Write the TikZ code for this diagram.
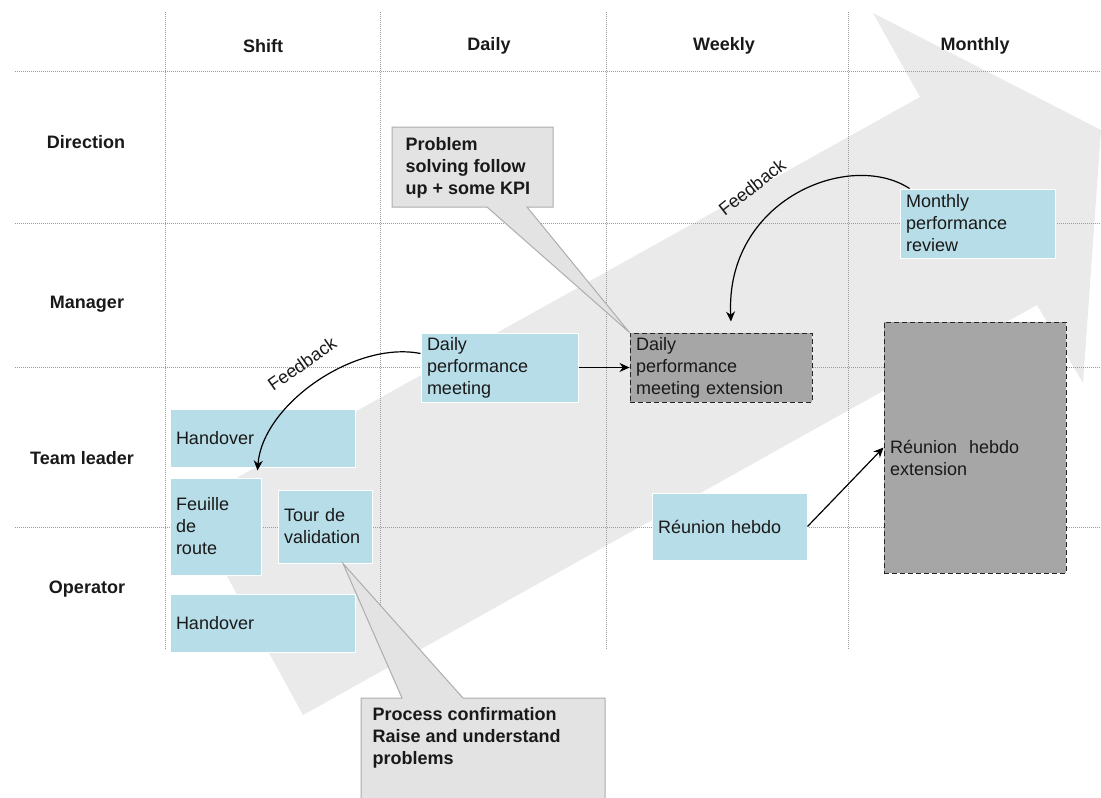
\documentclass[tikz,border=0pt]{standalone}
\usepackage{fontspec}
\setmainfont{Liberation Sans}
\usetikzlibrary{arrows.meta}

\definecolor{boxblue}{HTML}{B7DDE8}
\definecolor{extgray}{HTML}{A6A6A6}
\definecolor{flowgray}{HTML}{EAEAEA}
\definecolor{callfill}{HTML}{E3E3E3}
\definecolor{callline}{HTML}{ADADAD}
\definecolor{gridgray}{HTML}{9A9A9A}

\begin{document}
\begin{tikzpicture}[x=1pt,y=-1pt,>={Stealth[length=10pt,width=9pt]},
    every node/.style={font=\fontsize{18}{22}\selectfont,text=black!90},
    head/.style={font=\fontsize{18}{22}\selectfont\bfseries},
    gridline/.style={gridgray,line width=0.8pt,dash pattern=on 1pt off 1pt},
    act/.style={fill=boxblue,draw=white,line width=1pt,align=left,inner xsep=6pt,inner ysep=0pt},
    ext/.style={fill=extgray,draw=black!85,line width=1pt,dash pattern=on 5pt off 3pt,align=left,inner xsep=6pt,inner ysep=0pt},
    callout/.style={fill=callfill,draw=callline,line width=1pt},
    link/.style={->,line width=1.2pt}]
    \useasboundingbox (0,0) rectangle (1101,798);
    % big arrow in the background
    \fill[flowgray] (303,715) -- (1037,305) -- (1083,383) -- (1101,130) -- (873,13) -- (920,97) -- (188,505) -- cycle;
    \foreach \x in {165,380,606,848}{
        \draw[gridline] (\x,12) -- (\x,650);
    }
    \foreach \y in {71,223,367,527}{
        \draw[gridline] (15,\y) -- (1101,\y);
    }
    \foreach \x/\lab in {263/Shift,489/Daily,724/Weekly,975/Monthly}{
        \node[head] (col-\lab) at (\x,46) {\lab};
    }
    \foreach \x/\y/\nm/\lab in {86/142/dir/Direction,87/304/man/Manager,82/458/tl/Team leader,87/589/op/Operator}{
        \node[head] (row-\nm) at (\x,\y) {\lab};
    }
    \node[act,text width=145pt,minimum height=69pt] (dpm) at (499.5,367.5) {Daily\\performance\\meeting};
    \node[ext,text width=170pt,minimum height=69pt] (dpmx) at (721,367.5) {Daily\\performance\\meeting extension};
    \node[act,text width=173pt,minimum height=58pt] (hotl) at (262.5,438) {Handover};
    \node[act,text width=79pt,minimum height=97pt] (feuille) at (215.5,526.5) {Feuille\\de\\route};
    \node[act,text width=82pt,minimum height=73pt] (tour) at (325,526.5) {Tour de\\validation};
    \node[act,text width=173pt,minimum height=58pt] (hoop) at (262.5,623) {Handover};
    \node[act,text width=143pt,minimum height=67pt] (hebdo) at (729.5,526.5) {Réunion hebdo};
    \node[ext,text width=170pt,minimum height=251pt,text height=35pt] (hebdox) at (975,447.5) {Réunion\ \ hebdo\\extension};
    \node[act,text width=143pt,minimum height=69pt] (mpr) at (977.5,223.5) {Monthly\\performance\\review};
    % callouts
    \draw[callout] (392,127) -- (553,127) -- (553,207) -- (527,207) -- (dpmx.north west) -- (487,207) -- (392,207) -- cycle;
    \node[head,align=left,anchor=west] (kpi) at (402,168) {Problem\\solving follow\\up + some KPI};
    \draw[callout] (361,698) -- (402,698) -- ([xshift=18pt]tour.south) -- (463,698) -- (605,698) -- (605,800) -- (361,800) -- cycle;
    \node[head,align=left,anchor=north west] (proc) at (369,704) {Process confirmation\\Raise and understand\\problems};
    % links
    \draw[link] (dpm.east) -- (dpmx.west);
    \draw[link] (hebdo.east) -- (hebdox.west);
    \draw[link] ([yshift=14pt]dpm.west) .. controls +(-66,-13) and +(5,-66) .. ([xshift=-4pt,yshift=7pt]feuille.north east);
    \draw[link] ([xshift=10pt]mpr.north west) .. controls +(-60,-39) and +(-6,-122) .. ([xshift=10pt,yshift=11pt]dpmx.north);
    \node[rotate=35] (fb1) at (302,364) {Feedback};
    \node[rotate=38] (fb2) at (752,187) {Feedback};
\end{tikzpicture}
\end{document}
